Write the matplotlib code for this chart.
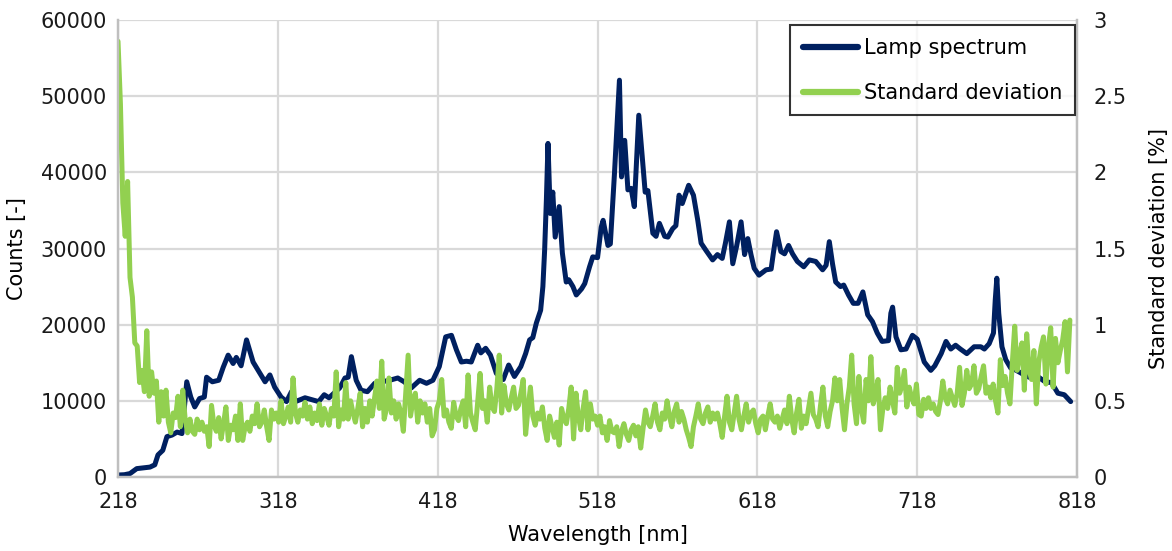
import matplotlib
matplotlib.use("Agg")
import matplotlib.pyplot as plt
import numpy as np

# Lamp output (counts) against wavelength (nm)
lamp_wl = [
    218, 222, 225.5, 229.7, 234, 238, 241, 243, 246, 248.6, 251.7, 255, 258, 261,
    263.5, 266, 269, 272, 273.4, 277, 281, 283.8, 286.9, 290, 292, 295, 298.4,
    302.5, 306.8, 310, 313, 316, 320, 323.4, 326.5, 329, 335, 340, 343.5, 347,
    350, 356.7, 360, 362, 364, 367, 370, 374, 378.6, 383, 388, 393, 397, 401.5,
    406.7, 411, 415, 419, 423, 426.6, 429.7, 432.8, 436, 439, 443, 445, 448, 451,
    454.7, 459, 462.4, 466, 470, 473, 475.5, 477.5, 479.7, 482.4, 483.8, 484.9,
    486, 487, 488.4, 490, 491.5, 494, 496, 498.4, 500, 502.6, 504.7, 508, 510,
    513, 515, 518, 520.3, 521.5, 524.5, 526, 528.6, 531.7, 533, 535, 537, 539,
    541, 543.8, 546, 547.8, 549.5, 552.6, 554.6, 556.7, 560, 562, 565, 567, 569,
    571, 575, 578, 580.7, 582.8, 586, 590, 593, 596, 598, 600.5, 602.6, 605,
    607.8, 610, 612, 614, 616, 619, 623.4, 626.6, 628, 630, 632.7, 635, 637.5,
    640, 643, 647, 650.5, 654.5, 658.8, 661, 663, 665, 667, 670, 672, 675, 678,
    681, 684, 687, 690, 693, 696, 700, 701.5, 702.6, 704.7, 707.8, 711, 715, 718,
    722.4, 726.5, 729, 733, 736, 739, 742, 745, 749, 753.6, 757.8, 760, 763,
    765.7, 766.8, 767.8, 769, 771, 773.4, 776.5, 780, 785, 788, 791, 794, 798,
    802, 806, 810, 814,
]
lamp_counts = [
    260, 300, 450, 1100, 1200, 1300, 1600, 2900, 3500, 5300, 5500, 5900, 5700,
    12500, 10500, 9200, 10300, 10500, 13100, 12500, 12700, 14400, 16000, 14900,
    15700, 14600, 18000, 15100, 13600, 12500, 13400, 11800, 10500, 9900, 11200,
    9900, 10400, 10100, 9900, 10800, 10400, 11700, 13000, 13100, 15800, 12700,
    11400, 11200, 12300, 12500, 12700, 13000, 12500, 11700, 12700, 12300, 12700,
    14500, 18400, 18600, 16700, 15100, 15200, 15100, 17300, 16300, 16900, 16000,
    13600, 12800, 14700, 13200, 14500, 16200, 18000, 18300, 20200, 21900, 25000,
    29800, 36400, 43800, 34600, 37400, 31500, 35500, 29400, 25600, 25900, 25000,
    23900, 24700, 25400, 27600, 28900, 28800, 32800, 33700, 30400, 30600, 39900,
    52100, 39400, 44200, 37700, 37900, 35500, 47500, 42000, 37400, 37600, 32000,
    31600, 33300, 31600, 31500, 32600, 33000, 37000, 35900, 38300, 37000, 33700,
    30700, 29700, 28500, 29200, 28700, 30700, 33500, 28000, 30300, 33500, 29200,
    31300, 29200, 27400, 26500, 27200, 27300, 29400, 32200, 29600, 29300, 30400,
    29300, 28300, 27600, 28500, 28300, 27200, 27800, 30900, 28000, 25600, 25000,
    25200, 23900, 22800, 22800, 24300, 21300, 20400, 18900, 17800, 17900, 21500,
    22300, 18400, 16700, 16800, 18600, 18100, 15100, 14000, 14600, 16200, 17800,
    16800, 17300, 16800, 16200, 17100, 17100, 16800, 17500, 18900, 23200, 26100,
    21500, 17100, 15400, 14300, 14000, 13400, 13100, 13500, 13100, 12500, 12400,
    11000, 10800, 9900,
]

# Standard deviation (%) sampled every 1.5 nm from 218 nm
std_pct = [
    2.86, 2.45, 1.80, 1.58, 1.94, 1.31, 1.18, 0.88, 0.86, 0.62,
    0.70, 0.56, 0.96, 0.53, 0.69, 0.55, 0.63, 0.36, 0.56, 0.40,
    0.57, 0.36, 0.29, 0.42, 0.39, 0.53, 0.33, 0.57, 0.38, 0.29,
    0.38, 0.30, 0.28, 0.38, 0.31, 0.36, 0.30, 0.33, 0.20, 0.47,
    0.34, 0.30, 0.39, 0.25, 0.35, 0.46, 0.24, 0.34, 0.31, 0.40,
    0.24, 0.48, 0.24, 0.33, 0.36, 0.30, 0.40, 0.35, 0.48, 0.33,
    0.36, 0.44, 0.33, 0.24, 0.44, 0.38, 0.42, 0.36, 0.50, 0.35,
    0.40, 0.46, 0.36, 0.65, 0.42, 0.36, 0.44, 0.40, 0.49, 0.38,
    0.46, 0.35, 0.42, 0.37, 0.48, 0.34, 0.45, 0.40, 0.34, 0.45,
    0.40, 0.69, 0.33, 0.44, 0.38, 0.62, 0.38, 0.50, 0.42, 0.36,
    0.45, 0.55, 0.33, 0.45, 0.36, 0.50, 0.40, 0.52, 0.63, 0.45,
    0.76, 0.38, 0.45, 0.65, 0.42, 0.50, 0.38, 0.48, 0.42, 0.30,
    0.55, 0.80, 0.40, 0.50, 0.55, 0.36, 0.50, 0.42, 0.48, 0.36,
    0.45, 0.27, 0.31, 0.45, 0.50, 0.64, 0.40, 0.44, 0.36, 0.32,
    0.49, 0.40, 0.37, 0.45, 0.50, 0.33, 0.67, 0.42, 0.36, 0.31,
    0.49, 0.68, 0.45, 0.50, 0.36, 0.59, 0.46, 0.43, 0.58, 0.80,
    0.42, 0.60, 0.48, 0.44, 0.52, 0.59, 0.45, 0.47, 0.55, 0.64,
    0.28, 0.45, 0.59, 0.40, 0.34, 0.42, 0.38, 0.46, 0.32, 0.24,
    0.40, 0.33, 0.26, 0.36, 0.21, 0.45, 0.38, 0.35, 0.45, 0.59,
    0.25, 0.55, 0.40, 0.31, 0.45, 0.56, 0.31, 0.48, 0.38, 0.40,
    0.34, 0.40, 0.29, 0.33, 0.24, 0.37, 0.30, 0.29, 0.33, 0.20,
    0.30, 0.35, 0.28, 0.24, 0.31, 0.34, 0.27, 0.33, 0.19, 0.32,
    0.44, 0.36, 0.33, 0.40, 0.48, 0.36, 0.31, 0.42, 0.38, 0.50,
    0.40, 0.33, 0.43, 0.48, 0.36, 0.43, 0.38, 0.31, 0.26, 0.20,
    0.33, 0.40, 0.48, 0.38, 0.35, 0.42, 0.46, 0.36, 0.42, 0.38,
    0.42, 0.35, 0.26, 0.40, 0.53, 0.36, 0.31, 0.42, 0.53, 0.38,
    0.31, 0.40, 0.48, 0.36, 0.42, 0.44, 0.35, 0.29, 0.38, 0.40,
    0.31, 0.40, 0.48, 0.38, 0.36, 0.40, 0.32, 0.38, 0.44, 0.35,
    0.53, 0.38, 0.29, 0.42, 0.51, 0.32, 0.40, 0.35, 0.45, 0.55,
    0.41, 0.38, 0.33, 0.47, 0.59, 0.40, 0.33, 0.43, 0.50, 0.65,
    0.50, 0.64, 0.45, 0.31, 0.48, 0.59, 0.80, 0.48, 0.35, 0.66,
    0.45, 0.36, 0.64, 0.50, 0.79, 0.48, 0.55, 0.64, 0.31, 0.45,
    0.52, 0.45, 0.59, 0.50, 0.42, 0.72, 0.55, 0.60, 0.70, 0.46,
    0.59, 0.52, 0.48, 0.61, 0.41, 0.40, 0.51, 0.45, 0.52, 0.45,
    0.48, 0.43, 0.41, 0.50, 0.63, 0.52, 0.48, 0.57, 0.52, 0.47,
    0.55, 0.72, 0.47, 0.55, 0.70, 0.58, 0.61, 0.73, 0.55, 0.58,
    0.66, 0.73, 0.55, 0.59, 0.52, 0.61, 0.50, 0.42, 0.77, 0.60,
    0.66, 0.55, 0.48, 0.75, 0.99, 0.70, 0.80, 0.88, 0.57, 0.94,
    0.70, 0.64, 0.83, 0.48, 0.75, 0.85, 0.92, 0.61, 0.85, 0.98,
    0.59, 0.91, 0.75, 0.83, 0.90, 1.02, 0.69, 1.03,
]
std_wl = 218 + 1.5 * np.arange(len(std_pct))

x_ticks = [218, 318, 418, 518, 618, 718, 818]
counts_ticks = [0, 10000, 20000, 30000, 40000, 50000, 60000]
std_ticks = [0, 0.5, 1, 1.5, 2, 2.5, 3]
std_tick_labels = ['0', '0.5', '1', '1.5', '2', '2.5', '3']

NAVY = '#002060'
GREEN = '#92D050'
GRID = '#D9D9D9'
AXIS = '#BFBFBF'
FONT = 15

plt.rcParams['font.family'] = ['DejaVu Sans']

fig = plt.figure(figsize=(11.72, 5.51), dpi=100)
ax = fig.add_axes([0.1007, 0.1343, 0.8183, 0.8294])
ax2 = ax.twinx()

line_lamp, = ax.plot(lamp_wl, lamp_counts, color=NAVY, linewidth=3.6,
                     solid_joinstyle='round', solid_capstyle='round',
                     label='Lamp spectrum')
line_std, = ax2.plot(std_wl, std_pct, color=GREEN, linewidth=3.6,
                     solid_joinstyle='round', solid_capstyle='round',
                     label='Standard deviation')

ax.set_xlim(218, 818)
ax.set_ylim(0, 60000)
ax2.set_ylim(0, 3)
ax.set_xticks(x_ticks)
ax.set_yticks(counts_ticks)
ax2.set_yticks(std_ticks)
ax2.set_yticklabels(std_tick_labels)

ax.grid(True, color=GRID, linewidth=1.6)
ax.set_axisbelow(True)
for a in (ax, ax2):
    a.tick_params(length=0, labelsize=FONT, colors='#1a1a1a')
    a.spines['top'].set_visible(False)
    for side in ('left', 'right', 'bottom'):
        a.spines[side].set_color(AXIS)
        a.spines[side].set_linewidth(1.6)
ax.tick_params(axis='x', pad=11)
ax.tick_params(axis='y', pad=8)
ax2.tick_params(axis='y', pad=12)

ax.set_xlabel('Wavelength [nm]', fontsize=FONT, labelpad=9)
ax.set_ylabel('Counts [-]', fontsize=FONT, labelpad=10)
ax2.set_ylabel('Standard deviation [%]', fontsize=FONT, labelpad=16)

leg = ax2.legend(handles=[line_lamp, line_std], loc='upper right',
                 bbox_to_anchor=(0.998, 0.988), fontsize=FONT, frameon=True,
                 fancybox=False, edgecolor='black', handlelength=2.65,
                 handletextpad=0.3, borderpad=0.6, labelspacing=1.2,
                 borderaxespad=0)
leg.get_frame().set_linewidth(1.5)
for h in leg.get_lines():
    h.set_linewidth(4.5)

fig.savefig('out.png', dpi=100, facecolor='white')
